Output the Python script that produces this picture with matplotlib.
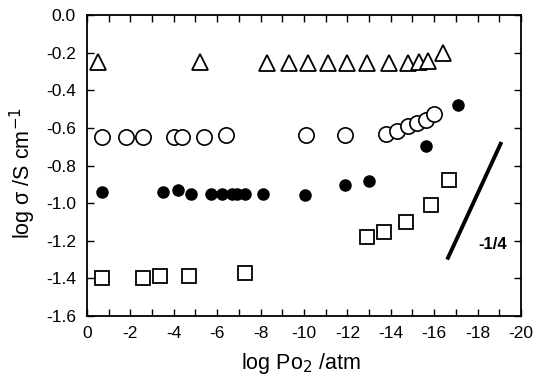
import matplotlib
matplotlib.use("Agg")
import matplotlib.pyplot as plt
import numpy as np

plt.rcParams['font.family'] = ['Liberation Sans', 'DejaVu Sans']

# Data (x: log Po2 / atm, y: log sigma / S cm^-1)
tri_x = [-0.5, -5.2, -8.3, -9.3, -10.2, -11.1, -12.0, -12.9, -13.9, -14.8, -15.3, -15.7, -16.4]
tri_y = [-0.25, -0.25, -0.255, -0.255, -0.255, -0.255, -0.255, -0.255, -0.255, -0.255, -0.25, -0.245, -0.20]

oc_x = [-0.7, -1.8, -2.6, -4.0, -4.4, -5.4, -6.4, -10.1, -11.9, -13.8, -14.3, -14.8, -15.2, -15.6, -16.0]
oc_y = [-0.65, -0.65, -0.65, -0.65, -0.65, -0.65, -0.64, -0.64, -0.64, -0.63, -0.615, -0.59, -0.575, -0.56, -0.525]

fc_x = [-0.7, -3.5, -4.2, -4.8, -5.7, -6.2, -6.7, -6.9, -7.3, -8.1, -10.05, -11.9, -13.0, -15.6, -17.1]
fc_y = [-0.94, -0.94, -0.93, -0.95, -0.95, -0.95, -0.95, -0.95, -0.95, -0.95, -0.957, -0.905, -0.88, -0.695, -0.48]

sq_x = [-0.7, -2.6, -3.35, -4.7, -7.3, -12.9, -13.7, -14.7, -15.85, -16.7]
sq_y = [-1.40, -1.40, -1.39, -1.39, -1.37, -1.18, -1.155, -1.10, -1.01, -0.877]

slope_x = [-16.6, -19.1]
slope_y = [-1.30, -0.675]
slope_label = "-1/4"

xticks = [0, -2, -4, -6, -8, -10, -12, -14, -16, -18, -20]
yticks = [0.0, -0.2, -0.4, -0.6, -0.8, -1.0, -1.2, -1.4, -1.6]

fig = plt.figure(figsize=(5.35, 3.76), dpi=100)
ax = fig.add_axes([0.1626, 0.1596, 0.8112, 0.8004])

ax.plot(tri_x, tri_y, linestyle='none', marker='^', markersize=11.5,
        markerfacecolor='white', markeredgecolor='black', markeredgewidth=1.3)
ax.plot(oc_x, oc_y, linestyle='none', marker='o', markersize=11,
        markerfacecolor='white', markeredgecolor='black', markeredgewidth=1.2)
ax.plot(fc_x, fc_y, linestyle='none', marker='o', markersize=8,
        markerfacecolor='black', markeredgecolor='black')
ax.plot(sq_x, sq_y, linestyle='none', marker='s', markersize=10,
        markerfacecolor='white', markeredgecolor='black', markeredgewidth=1.3)
ax.plot(slope_x, slope_y, color='black', linewidth=2.8, solid_capstyle='butt')
ax.text(-18.7, -1.22, slope_label, fontsize=12, fontweight='bold', ha='center', va='center')

ax.set_xlim(0, -20)
ax.set_ylim(-1.6, 0.0)
ax.set_xticks(xticks)
ax.set_xticks(np.arange(0, -21, -1), minor=True)
ax.set_yticks(yticks)
ax.set_xticklabels([f"{t:d}" for t in xticks])
ax.set_yticklabels([f"{t:.1f}" for t in yticks])
ax.tick_params(axis='both', which='both', direction='in', top=True, right=True,
               length=5, width=1.0, labelsize=12.5)
ax.tick_params(axis='x', which='major', pad=7)
ax.tick_params(axis='y', which='major', pad=8)
for s in ax.spines.values():
    s.set_linewidth(1.3)

ax.set_xlabel(r"log Po$_2$ /atm", fontsize=15.5)
ax.set_ylabel(r"log $\mathregular{\sigma}$ /S cm$^{-1}$", fontsize=15.5)
ax.xaxis.set_label_coords(0.493, -0.115)
ax.yaxis.set_label_coords(-0.113, 0.475)

fig.savefig("out.png", dpi=100)
